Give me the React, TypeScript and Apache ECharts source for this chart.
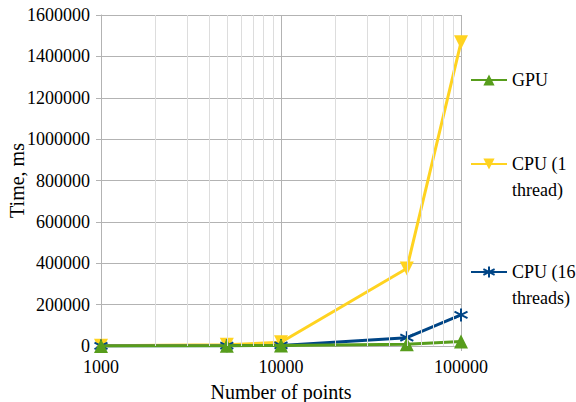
import React, { useEffect, useRef } from "react";
import * as echarts from "echarts";

const xPoints = [1000, 5000, 10000, 50000, 100000];
const gpu = [300, 1200, 2500, 8000, 22000];
const cpu1 = [1500, 6000, 18000, 375000, 1468000];
const cpu16 = [500, 1500, 3000, 40000, 150000];
const minorX = [2000, 3000, 4000, 5000, 6000, 7000, 8000, 9000, 20000, 30000, 40000, 50000, 60000, 70000, 80000, 90000];
const seriesNames = ["GPU", "CPU (1 thread)", "CPU (16 threads)"];
const legendLabels: Record<string, string> = {
  "GPU": "GPU",
  "CPU (1 thread)": " \nCPU (1\nthread)",
  "CPU (16 threads)": " \nCPU (16\nthreads)",
};

const FONT = "Liberation Serif";
const STAR = "path://M0,0 L0,10 M-4.33,2.5 L4.33,7.5 M-4.33,7.5 L4.33,2.5";

export default function App() {
  const ref = useRef<HTMLDivElement>(null);
  useEffect(() => {
    if (!ref.current) return;
    const chart = echarts.init(ref.current, null, { renderer: "svg" });
    const pair = (arr: number[]) => xPoints.map((x, i) => [x, arr[i]]);
    const legendText = { fontFamily: FONT, fontSize: 18, color: "#000", lineHeight: 26 };
    const mkLegend = (name: string, top: number) => ({
      data: [name],
      orient: "vertical",
      left: 470,
      top,
      padding: 0,
      itemWidth: 36,
      itemHeight: 14,
      itemGap: 0,
      formatter: (n: string) => legendLabels[n],
      textStyle: legendText,
    });
    const plain = (v: number) => String(v);
    chart.setOption({
      animation: false,
      backgroundColor: "#fff",
      textStyle: { fontFamily: FONT, color: "#000" },
      grid: { left: 101, right: 115, top: 15, bottom: 56, containLabel: false, outerBoundsMode: "none" },
      legend: [
        mkLegend(seriesNames[0], 67),
        mkLegend(seriesNames[1], 125),
        mkLegend(seriesNames[2], 233),
      ],
      xAxis: {
        type: "log",
        logBase: 10,
        min: 1000,
        max: 100000,
        name: "Number of points",
        nameLocation: "middle",
        nameGap: 36,
        nameMoveOverlap: false,
        nameTextStyle: { fontFamily: FONT, fontSize: 20, color: "#000" },
        axisLine: { lineStyle: { color: "#b3b3b3" } },
        axisTick: { show: true, length: 5, lineStyle: { color: "#b3b3b3" } },
        axisLabel: { fontFamily: FONT, fontSize: 18, color: "#000", margin: 12, formatter: plain },
        splitLine: { show: true, lineStyle: { color: "#b3b3b3", width: 1 } },
      },
      yAxis: {
        type: "value",
        min: 0,
        max: 1600000,
        interval: 200000,
        name: "Time, ms",
        nameLocation: "middle",
        nameGap: 74,
        nameMoveOverlap: false,
        nameTextStyle: { fontFamily: FONT, fontSize: 20, color: "#000" },
        axisLine: { show: true, lineStyle: { color: "#b3b3b3" } },
        axisTick: { show: true, length: 5, lineStyle: { color: "#b3b3b3" } },
        axisLabel: { fontFamily: FONT, fontSize: 18, color: "#000", margin: 11, formatter: plain },
        splitLine: { show: true, lineStyle: { color: "#b3b3b3", width: 1 } },
      },
      series: [
        {
          name: "minor",
          type: "line",
          data: [],
          z: 1,
          silent: true,
          markLine: {
            silent: true,
            symbol: "none",
            label: { show: false },
            lineStyle: { color: "#dddddd", type: "solid", width: 1 },
            data: minorX.map((v) => ({ xAxis: v })),
          },
        },
        {
          name: seriesNames[0],
          type: "line",
          data: pair(gpu),
          symbol: "triangle",
          symbolSize: 14,
          lineStyle: { color: "#579d1c", width: 3 },
          itemStyle: { color: "#579d1c" },
          z: 4,
        },
        {
          name: seriesNames[1],
          type: "line",
          data: pair(cpu1),
          symbol: "triangle",
          symbolRotate: 180,
          symbolSize: 14,
          lineStyle: { color: "#ffd320", width: 3 },
          itemStyle: { color: "#ffd320" },
          z: 2,
        },
        {
          name: seriesNames[2],
          type: "line",
          data: pair(cpu16),
          symbol: STAR,
          symbolSize: 13,
          lineStyle: { color: "#004586", width: 3 },
          itemStyle: { color: "#004586", borderColor: "#004586", borderWidth: 2 },
          z: 3,
        },
      ],
    });
    return () => chart.dispose();
  }, []);
  return (
    <div
      ref={ref}
      style={{ position: "fixed", left: 0, top: 0, width: 576, height: 402 }}
    />
  );
}
